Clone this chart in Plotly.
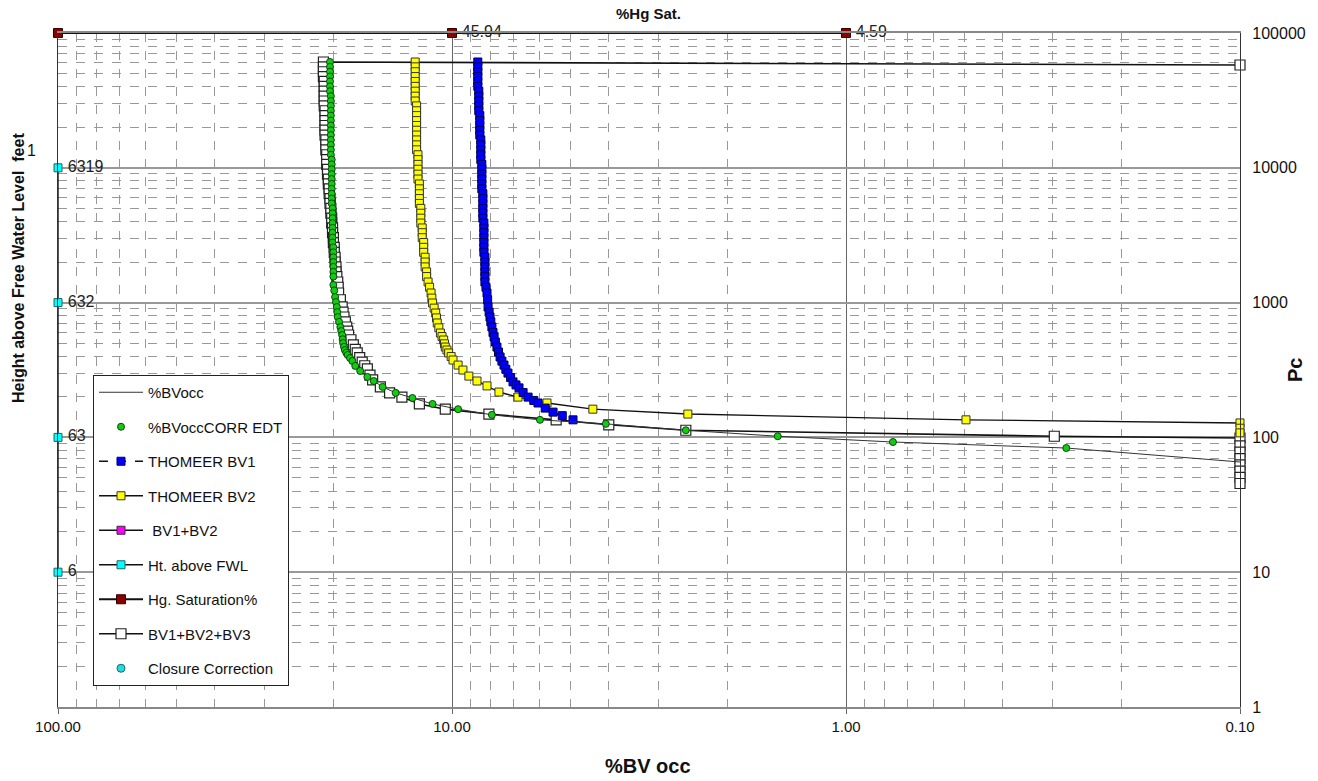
import plotly.graph_objects as go

# ---------------- data ----------------
# shared capillary-pressure sampling of the steep (upper) part of the curves
pc_upper = [60950, 56100, 51600, 47500, 43700, 40200, 37000, 34000, 31300, 28800,
            26500, 24400, 22400, 20600, 19000, 17500, 16100, 14800, 13600, 12500,
            11500, 10600, 9750, 8970, 8250, 7590, 6980, 6420, 5910, 5440,
            5000, 4600, 4230, 3890, 3580, 3300, 3030, 2790, 2570, 2360,
            2170, 2000, 1840, 1690, 1560]

# %BVoccCORR EDT (green dots)
green_upper_x = [20.4, 20.4, 20.4, 20.4, 20.4, 20.4, 20.4, 20.3, 20.3, 20.3,
                 20.3, 20.3, 20.3, 20.3, 20.3, 20.3, 20.3, 20.3, 20.3, 20.3,
                 20.2, 20.2, 20.2, 20.2, 20.2, 20.2, 20.2, 20.2, 20.2, 20.2,
                 20.1, 20.1, 20.1, 20.1, 20.1, 20.1, 20.1, 20.1, 20.0, 20.0,
                 20.0, 20.0, 20.0, 20.0, 20.0]
green_lower_pc = [1351, 1230, 1100, 1010, 928, 850, 782, 720, 659, 615, 575, 535, 501,
                  470, 445, 425, 409, 388, 369, 339, 311, 281, 262, 237, 214, 196, 177,
                  162, 147, 135, 126, 113, 102, 92.4, 83.4]
green_lower_x = [20.0, 19.9, 19.8, 19.7, 19.6, 19.55, 19.5, 19.35, 19.2, 19.1, 19.0, 18.95,
                 18.9, 18.8, 18.7, 18.55, 18.4, 18.15, 17.9, 17.6, 17.1, 16.4, 15.8, 15.0,
                 13.9, 12.6, 11.2, 9.65, 7.92, 5.98, 4.07, 2.55, 1.49, 0.76, 0.276]

# %BVocc (thin line) end point beyond the last green dot
bvocc_end_x = [0.1]
bvocc_end_pc = [65.7]

# BV1+BV2+BV3 (white squares)
white_start_x = [0.1]
white_start_pc = [57900]
white_upper_x = [21.2, 21.2, 21.2, 21.2, 21.1, 21.1, 21.1, 21.1, 21.1, 21.1,
                 21.0, 21.0, 21.0, 21.0, 21.0, 21.0, 20.9, 20.9, 20.9, 20.8,
                 20.8, 20.8, 20.7, 20.7, 20.6, 20.6, 20.5, 20.5, 20.4, 20.4,
                 20.3, 20.3, 20.2, 20.2, 20.1, 20.1, 20.0, 20.0, 19.9, 19.9,
                 19.8, 19.8, 19.7, 19.7, 19.6]
white_lower_pc = [1422, 1300, 1178, 1050, 928, 850, 782, 720, 659, 615, 575, 530, 485, 450,
                  423, 390, 362, 340, 322, 290, 267, 237, 214, 199, 177, 162, 149, 135,
                  124, 113, 102, 99, 86.4, 77.7, 69.5, 62.5, 56.2, 50.5, 45.5]
white_lower_x = [19.5, 19.45, 19.4, 19.2, 19.0, 18.9, 18.8, 18.65, 18.5, 18.4, 18.3, 18.05,
                 17.8, 17.6, 17.4, 17.15, 16.9, 16.65, 16.4, 16.15, 15.9, 15.2, 14.4, 13.4,
                 12.1, 10.4, 8.06, 5.44, 4.0, 2.55, 0.296, 0.1, 0.1, 0.1, 0.1, 0.1, 0.1,
                 0.1, 0.1]

# THOMEER BV2 (yellow squares)
yellow_upper_x = [12.4, 12.4, 12.4, 12.4, 12.4, 12.4, 12.4, 12.4, 12.4, 12.3,
                  12.3, 12.3, 12.3, 12.3, 12.3, 12.3, 12.3, 12.3, 12.3, 12.2,
                  12.2, 12.2, 12.2, 12.2, 12.2, 12.1, 12.1, 12.1, 12.1, 12.1,
                  12.0, 12.0, 12.0, 12.0, 11.9, 11.9, 11.9, 11.8, 11.8, 11.8,
                  11.7, 11.7, 11.7, 11.6, 11.6]
yellow_lower_pc = [1422, 1300, 1178, 1080, 993, 910, 837, 770, 706, 650, 595, 560, 528,
                   495, 468, 445, 423, 398, 375, 344, 316, 285, 262, 241, 217, 199, 180,
                   162, 149, 135, 128, 117, 108]
yellow_lower_x = [11.5, 11.4, 11.3, 11.25, 11.2, 11.1, 11.0, 10.95, 10.9, 10.8, 10.7, 10.6,
                  10.5, 10.45, 10.4, 10.3, 10.2, 10.05, 9.94, 9.65, 9.38, 9.06, 8.64, 8.15,
                  7.60, 6.80, 5.74, 4.39, 2.52, 0.496, 0.1, 0.1, 0.1]

# THOMEER BV1 (blue squares)
blue_upper_x = [8.6, 8.6, 8.6, 8.6, 8.6, 8.6, 8.55, 8.55, 8.55, 8.55,
                8.55, 8.5, 8.5, 8.5, 8.5, 8.5, 8.45, 8.45, 8.45, 8.45,
                8.45, 8.4, 8.4, 8.4, 8.4, 8.4, 8.4, 8.35, 8.35, 8.35,
                8.35, 8.35, 8.35, 8.3, 8.3, 8.3, 8.3, 8.3, 8.3, 8.3,
                8.25, 8.25, 8.25, 8.25, 8.25]
blue_lower_pc = [1422, 1300, 1178, 1050, 928, 850, 782, 720, 659, 600, 556, 510, 468, 430,
                 395, 368, 344, 320, 300, 278, 258, 245, 233, 215, 199, 188, 180, 165, 154,
                 145, 135]
blue_lower_x = [8.25, 8.2, 8.15, 8.12, 8.10, 8.05, 8.01, 7.97, 7.92, 7.87, 7.82, 7.76, 7.69,
                7.62, 7.55, 7.47, 7.38, 7.3, 7.21, 7.1, 7.0, 6.88, 6.76, 6.6, 6.41, 6.2, 6.05,
                5.8, 5.54, 5.25, 4.93]

# Hg saturation markers along the top
hg_x = [100, 10, 1]
hg_pc = [100000, 100000, 100000]
hg_labels = ["", "45.94", "4.59"]

# Height above free water level markers along the left edge
fwl_x = [100, 100, 100, 100]
fwl_pc = [10000, 1000, 100, 10]
fwl_labels = ["6319", "632", "63", "6"]

x_tick_vals = [100, 10, 1, 0.1]
x_tick_text = ["100.00", "10.00", "1.00", "0.10"]
y_tick_vals = [1, 10, 100, 1000, 10000, 100000]
y_tick_text = ["1", "10", "100", "1000", "10000", "100000"]

# ---------------- figure ----------------
FONT = "Liberation Sans, Arial, sans-serif"
fig = go.Figure()

green_x = green_upper_x + green_lower_x
green_pc = pc_upper + green_lower_pc

# BV1+BV2+BV3
fig.add_trace(go.Scatter(
    x=white_start_x + white_upper_x + white_lower_x,
    y=white_start_pc + pc_upper + white_lower_pc,
    mode="lines+markers", name="BV1+BV2+BV3", legendrank=8, legendgroup="g8",
    line=dict(color="#111111", width=1.6),
    marker=dict(symbol="square", size=10, color="white", line=dict(color="#222222", width=1.2)),
    cliponaxis=False))
# THOMEER BV2
fig.add_trace(go.Scatter(
    x=yellow_upper_x + yellow_lower_x, y=pc_upper + yellow_lower_pc,
    mode="lines+markers", name="THOMEER BV2", legendrank=4, legendgroup="g4",
    line=dict(color="#111111", width=1.4),
    marker=dict(symbol="square", size=8, color="#FFFF00", line=dict(color="#333333", width=1)),
    cliponaxis=False))
# THOMEER BV1
fig.add_trace(go.Scatter(
    x=blue_upper_x + blue_lower_x, y=pc_upper + blue_lower_pc,
    mode="lines+markers", name="THOMEER BV1", legendrank=3, legendgroup="g3",
    line=dict(color="#111111", width=1.4, dash="dash"),
    marker=dict(symbol="square", size=8, color="#0000FF", line=dict(color="#000055", width=1)),
    cliponaxis=False))
# %BVocc thin line
fig.add_trace(go.Scatter(
    x=green_x + bvocc_end_x, y=green_pc + bvocc_end_pc,
    mode="lines", name="%BVocc", legendrank=1, legendgroup="g1",
    line=dict(color="#333333", width=1)))
# %BVoccCORR EDT
fig.add_trace(go.Scatter(
    x=green_x, y=green_pc,
    mode="markers", name="%BVoccCORR EDT", legendrank=2, legendgroup="g2",
    marker=dict(symbol="circle", size=7, color="#11CC11", line=dict(color="#114411", width=1))))
# BV1+BV2 (not visible in plot)
fig.add_trace(go.Scatter(
    x=[None], y=[None], mode="lines+markers", name=" BV1+BV2", legendrank=5, legendgroup="g5",
    line=dict(color="#111111", width=1.4),
    marker=dict(symbol="square", size=8, color="#FF00FF", line=dict(color="#333333", width=1))))
# Ht. above FWL
fig.add_trace(go.Scatter(
    x=fwl_x, y=fwl_pc, mode="lines+markers", name="Ht. above FWL", legendrank=6, legendgroup="g6",
    line=dict(color="#111111", width=1.4),
    marker=dict(symbol="square", size=8, color="#00FFFF", line=dict(color="#226666", width=1)),
    cliponaxis=False))
fig.add_trace(go.Scatter(
    x=fwl_x, y=fwl_pc, mode="markers+text", text=fwl_labels, textposition="middle right",
    marker=dict(size=14, opacity=0),
    textfont=dict(family=FONT, size=16, color="#222222"), showlegend=False, cliponaxis=False,
    hoverinfo="skip"))
# Hg. Saturation%
fig.add_trace(go.Scatter(
    x=hg_x, y=hg_pc, mode="lines+markers", name="Hg. Saturation%", legendrank=7, legendgroup="g7",
    line=dict(color="#111111", width=1.8),
    marker=dict(symbol="square", size=9, color="#880000", line=dict(color="#330000", width=1)),
    cliponaxis=False))
fig.add_trace(go.Scatter(
    x=hg_x, y=hg_pc, mode="markers+text", text=hg_labels, textposition="middle right",
    marker=dict(size=14, opacity=0),
    textfont=dict(family=FONT, size=16, color="#222222"), showlegend=False, cliponaxis=False,
    hoverinfo="skip"))
# Closure Correction (not visible in plot)
fig.add_trace(go.Scatter(
    x=[None], y=[None], mode="markers", name="Closure Correction", legendrank=9, legendgroup="g9",
    marker=dict(symbol="circle", size=8, color="#22DDDD", line=dict(color="#226666", width=1))))

W, H = 1318, 781
L, R, T, B = 58, 78, 33, 74
pw, ph = W - L - R, H - T - B


def pos(px, py):
    return (px - L) / pw, 1 - (py - T) / ph


def ann(text, px, py, size, angle=0):
    x, y = pos(px, py)
    return dict(text=text, x=x, y=y, xref="paper", yref="paper", showarrow=False,
                xanchor="center", yanchor="middle",
                textangle=angle, font=dict(family=FONT, size=size, color="#111111"))


leg_x, leg_y = pos(93, 375)

fig.update_layout(
    width=W, height=H,
    margin=dict(l=L, r=R, t=T, b=B),
    paper_bgcolor="white", plot_bgcolor="white",
    font=dict(family=FONT, size=14, color="#111111"),
    showlegend=True,
    legend=dict(x=leg_x, y=leg_y, xanchor="left", yanchor="top",
                bgcolor="white", bordercolor="#222222", borderwidth=1,
                font=dict(family=FONT, size=15, color="#111111"),
                tracegroupgap=12, traceorder="grouped", itemwidth=44),
    xaxis=dict(type="log", range=[2, -1], tickvals=x_tick_vals, ticktext=x_tick_text,
               showgrid=True, gridcolor="#666666", gridwidth=1,
               showline=True, linecolor="#888888", linewidth=1.5, mirror=True,
               ticks="outside", ticklen=5, tickcolor="#666666",
               tickfont=dict(family=FONT, size=15, color="#111111"),
               minor=dict(showgrid=True, gridcolor="#999999", griddash="dash", gridwidth=1,
                          dtick="D1", ticks=""),
               zeroline=False),
    yaxis=dict(type="log", range=[0, 5], side="right", tickvals=y_tick_vals, ticktext=y_tick_text,
               showgrid=True, gridcolor="#999999", gridwidth=1.5,
               showline=True, linecolor="#333333", linewidth=1.2, mirror=True,
               ticks="", ticklabelstandoff=8,
               tickfont=dict(family=FONT, size=16, color="#111111"),
               minor=dict(showgrid=True, gridcolor="#999999", griddash="dash", gridwidth=1,
                          dtick="D1", ticks=""),
               zeroline=False),
    annotations=[
        ann("<b>%Hg Sat.</b>", 648, 13, 15),
        ann("<b>%BV occ</b>", 648, 766, 20),
        ann("<b>Pc</b>", 1295, 370, 20, -90),
        ann("<b>Height above Free Water Level  feet</b>", 18, 268, 16, -90),
        ann("1", 31, 150, 16),
    ],
)

fig.write_html("out.html")
